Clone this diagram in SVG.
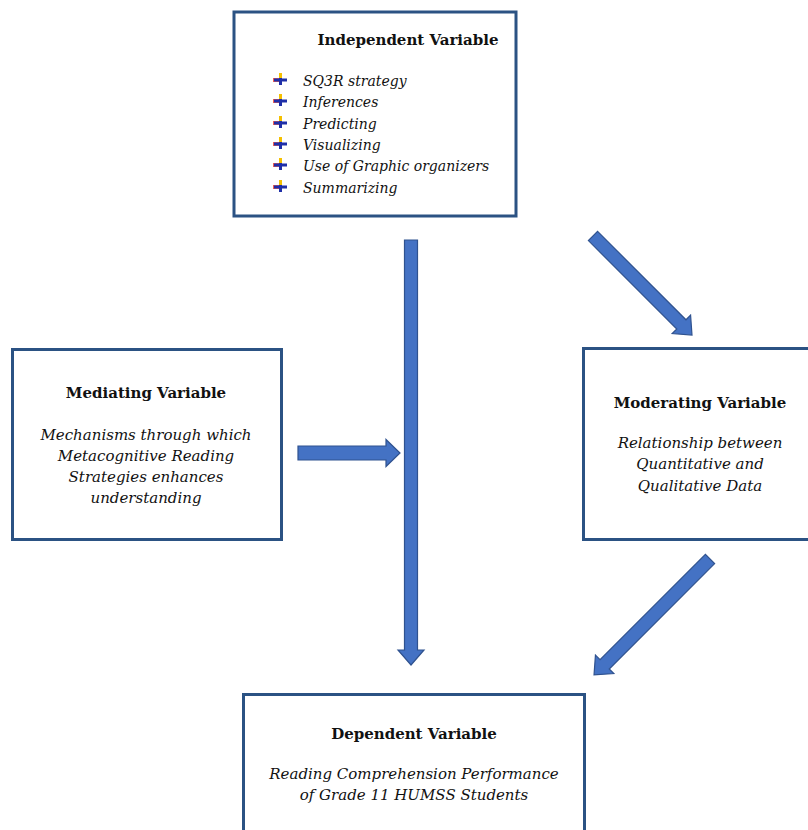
<svg xmlns="http://www.w3.org/2000/svg" width="808" height="830" viewBox="0 0 808 830">
<style>
.box{fill:#fff;stroke:#2B5283;stroke-width:3}
.arr{fill:#4472C4;stroke:#2F528F;stroke-width:1.2}
.t{font-family:"DejaVu Serif","Liberation Serif",serif;font-size:15px;fill:#111;text-anchor:middle}
.b{font-weight:bold}
.i{font-style:italic}
.l{font-family:"DejaVu Serif","Liberation Serif",serif;font-size:14px;fill:#111;font-style:italic}
</style>
<defs>
<g id="bul">
<rect x="-1" y="-7" width="3" height="6" fill="#F5C000"/>
<rect x="-7" y="-2" width="6" height="4" fill="#E8443A" opacity="0.85"/>
<path d="M-6,0 H7 M0.5,-2 V5" stroke="#1F2FA8" stroke-width="3"/>
</g>
</defs>
<g id="connectors">
<path class="arr" d="M404.5,240 H417.5 V650 H424 L411,665 L398,650 H404.5 Z"/>
<path class="arr" d="M298,446 H386 V439.5 L400,453 L386,466.5 V460 H298 Z"/>
<path class="arr" transform="translate(593,236) rotate(45)" d="M0,-6.5 H125 V-13 L140,0 L125,13 V6.5 H0 Z"/>
<path class="arr" transform="translate(710,559) rotate(135)" d="M0,-6.5 H149 V-13 L164,0 L149,13 V6.5 H0 Z"/>
</g>
<g id="independent">
<rect class="box" x="234" y="12" width="282" height="204"/>
<text class="t b" x="408" y="45">Independent Variable</text>
<use href="#bul" x="280" y="80"/>
<use href="#bul" x="280" y="101"/>
<use href="#bul" x="280" y="123"/>
<use href="#bul" x="280" y="144"/>
<use href="#bul" x="280" y="165"/>
<use href="#bul" x="280" y="187"/>
<text class="l" x="303" y="86">SQ3R strategy</text>
<text class="l" x="303" y="107">Inferences</text>
<text class="l" x="303" y="129">Predicting</text>
<text class="l" x="303" y="150">Visualizing</text>
<text class="l" x="303" y="171">Use of Graphic organizers</text>
<text class="l" x="303" y="193">Summarizing</text>
</g>
<g id="mediating">
<rect class="box" x="12.5" y="349.5" width="269" height="190"/>
<text class="t b" x="146" y="398">Mediating Variable</text>
<text class="t i" x="146" y="440">Mechanisms through which</text>
<text class="t i" x="146" y="461">Metacognitive Reading</text>
<text class="t i" x="146" y="482">Strategies enhances</text>
<text class="t i" x="146" y="503">understanding</text>
</g>
<g id="moderating">
<rect class="box" x="583.5" y="348.5" width="230" height="191"/>
<text class="t b" x="700" y="408">Moderating Variable</text>
<text class="t i" x="700" y="448">Relationship between</text>
<text class="t i" x="700" y="469">Quantitative and</text>
<text class="t i" x="700" y="491">Qualitative Data</text>
</g>
<g id="dependent">
<rect class="box" x="243.5" y="694.5" width="341" height="145"/>
<text class="t b" x="414" y="739">Dependent Variable</text>
<text class="t i" x="414" y="779">Reading Comprehension Performance</text>
<text class="t i" x="414" y="800">of Grade 11 HUMSS Students</text>
</g>
</svg>
